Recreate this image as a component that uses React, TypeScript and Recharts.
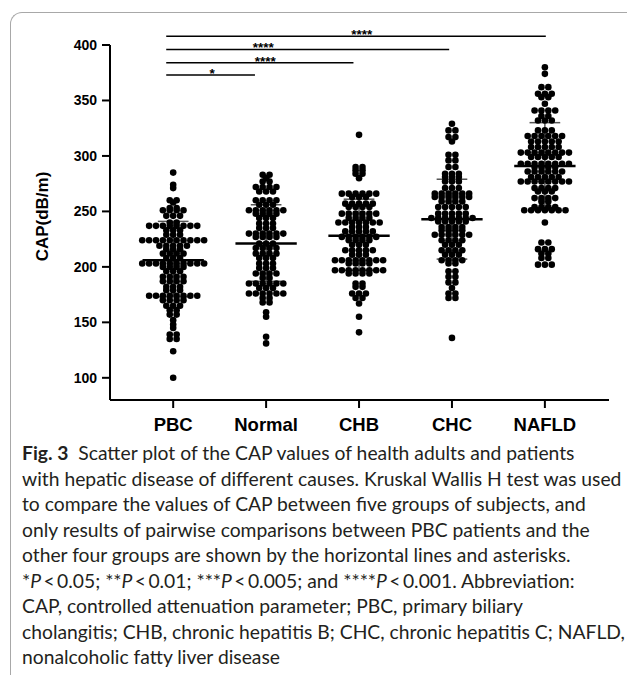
import React from 'react';
import { ScatterChart, Scatter, XAxis, YAxis, ReferenceLine, ReferenceDot, Label } from 'recharts';

const groups = ['PBC', 'Normal', 'CHB', 'CHC', 'NAFLD'];
const yTicks = [100, 150, 200, 250, 300, 350, 400];

// CAP values, one entry per dot
const pbc = [
  285, 274, 271, 260, 260, 258, 253, 253, 251, 251, 251, 251, 246, 246, 246, 240, 240,
  237, 237, 237, 237, 237, 237, 237, 237, 233, 233, 233, 229, 229, 229,
  224, 224, 224, 224, 224, 224, 224, 224, 224, 224, 219, 219, 219, 219, 219, 216, 216, 216,
  212, 212, 212, 212, 208, 208, 208, 203, 203, 203, 203, 203, 203, 203, 203, 203, 203,
  200, 200, 200, 200, 196, 196, 196, 191, 191, 191, 191, 187, 187, 187, 187, 182, 182, 182,
  179, 179, 179, 174, 174, 174, 174, 174, 174, 174, 174, 170, 170, 170, 170, 165, 165, 165,
  161, 161, 157, 157, 152, 148, 145, 139, 139, 135, 135, 124, 100,
];
const normal = [
  283, 283, 280, 277, 277, 272, 272, 272, 272, 268, 268, 268, 260, 260, 260, 260, 256, 256, 256,
  251, 251, 251, 251, 251, 251, 248, 248, 248, 248, 244, 244, 244, 239, 239, 239, 235, 235, 235,
  230, 230, 230, 230, 230, 230, 227, 227, 227, 227, 221, 221, 221, 217, 217, 217, 217,
  212, 212, 212, 212, 208, 208, 208, 203, 203, 203, 199, 199, 199, 194, 194, 194, 194, 190, 190,
  185, 185, 185, 185, 185, 185, 181, 181, 181, 176, 176, 176, 176, 176, 176, 172, 172, 168, 168,
  159, 155, 137, 131,
];
const chb = [
  319, 290, 290, 287, 287, 284, 284, 280, 266, 266, 266, 266, 266, 266, 263, 263, 263,
  257, 257, 257, 257, 257, 254, 254, 254, 254, 248, 248, 248, 248, 248, 248, 244, 244, 244, 244,
  240, 240, 240, 240, 240, 240, 240, 236, 236, 236, 232, 232, 232, 232, 232,
  227, 227, 227, 227, 227, 227, 224, 224, 224, 224, 220, 220, 220, 215, 215, 215, 215, 215,
  211, 211, 211, 206, 206, 206, 206, 206, 206, 206, 206, 203, 203, 203, 203,
  197, 197, 197, 197, 197, 197, 197, 197, 194, 194, 194, 194, 185, 185, 182, 182,
  176, 176, 176, 172, 172, 167, 155, 141,
];
const chc = [
  329, 323, 323, 317, 317, 313, 301, 301, 296, 296, 290, 290, 284, 284, 284, 281, 281, 281,
  277, 277, 277, 271, 271, 271, 266, 266, 266, 266, 266, 266, 263, 263, 263, 263, 263, 263,
  259, 259, 259, 259, 254, 254, 254, 254, 254, 248, 248, 248, 248, 248,
  244, 244, 244, 244, 244, 244, 244, 241, 241, 241, 241, 241, 236, 236, 236, 236, 233, 233, 233, 233,
  229, 229, 229, 229, 229, 229, 224, 224, 224, 224, 220, 220, 220, 215, 215, 215, 215,
  211, 211, 211, 206, 206, 206, 206, 203, 203, 196, 196, 191, 191, 186, 186, 181,
  176, 176, 172, 172, 136,
];
const nafld = [
  380, 374, 362, 362, 356, 356, 356, 353, 353, 347, 341, 341, 341, 341, 336, 336, 332, 332, 332,
  323, 323, 323, 318, 318, 318, 318, 318, 318, 313, 313, 313, 313, 313, 308, 308, 308, 308, 308,
  303, 303, 303, 303, 303, 303, 303, 303, 299, 299, 299, 299, 299,
  293, 293, 293, 293, 293, 293, 293, 293, 290, 290, 290, 290, 286, 286, 286, 286, 286, 286,
  281, 281, 281, 281, 281, 277, 277, 277, 277, 277, 277, 277, 277, 271, 271, 271, 271, 268, 268, 268,
  262, 262, 262, 262, 259, 259, 254, 254, 254, 254, 251, 251, 251, 251, 251, 251, 251,
  240, 222, 222, 216, 216, 216, 212, 212, 208, 208, 202, 202, 202,
];
const groupValues = [pbc, normal, chb, chc, nafld];

// median and interquartile bars
const medians = [206, 221, 228, 243, 291];
const upperQ = [241, 256, 261, 279, 330];
const lowerQ = [173, 187, 197, 207, 251];

// significance brackets: PBC vs each group
const sigEnds = [1.88, 2.94, 3.97, 5.01];
const sigLevels = [373, 384, 396, 408];
const sigStars = ['*', '****', '****', '****'];
const sigLabelX = [1.42, 1.99, 1.97, 3.03];

const STEP = 0.074;

// simple swarm layout: equal values share a row centred on the group
function swarm(vals: number[], gi: number) {
  const counts = new Map<number, number>();
  vals.forEach((v) => counts.set(v, (counts.get(v) || 0) + 1));
  const seen = new Map<number, number>();
  return vals.map((v) => {
    const n = counts.get(v) || 1;
    const k = seen.get(v) || 0;
    seen.set(v, k + 1);
    return { x: gi + 1 + (k - (n - 1) / 2) * STEP, y: v };
  });
}

const points = groupValues.flatMap((vals, gi) => swarm(vals, gi));

const Dot = (p: any) => <circle cx={p.cx} cy={p.cy} r={3.3} fill="#000" />;

const Stars = (text: string) => (p: any) => {
  const vb = p.viewBox || {};
  return (
    <text x={vb.x} y={vb.y + 3} textAnchor="middle" fontSize={13.5} fontWeight="bold" fill="#000">
      {text}
    </text>
  );
};

const YTitle = (p: any) => {
  const vb = p.viewBox;
  const cy = vb.y + vb.height / 2 - 6;
  return (
    <text
      x={42}
      y={cy}
      transform={`rotate(-90, 42, ${cy})`}
      textAnchor="middle"
      dominantBaseline="central"
      fontSize={17}
      fontWeight="bold"
      fill="#000"
    >
      CAP(dB/m)
    </text>
  );
};

const captionLines = [
  'with hepatic disease of different causes. Kruskal Wallis H test was used',
  'to compare the values of CAP between five groups of subjects, and',
  'only results of pairwise comparisons between PBC patients and the',
  'other four groups are shown by the horizontal lines and asterisks.',
];

export default function App() {
  const font = '"Liberation Sans", Arial, sans-serif';
  const lineStyle: React.CSSProperties = { height: 25.5, lineHeight: '25.5px', whiteSpace: 'nowrap' };
  return (
    <div
      style={{
        position: 'absolute',
        left: 0,
        top: 0,
        width: 627,
        height: 683,
        overflow: 'hidden',
        background: '#fff',
      }}
    >
      <div
        style={{
          position: 'absolute',
          left: 10,
          top: 12,
          width: 660,
          height: 662,
          borderTop: '1.5px solid #a8a8a8',
          borderLeft: '1.5px solid #a8a8a8',
          borderTopLeftRadius: 12,
        }}
      />
      <div style={{ position: 'absolute', left: 0, top: 0 }}>
        <ScatterChart
          width={627}
          height={440}
          margin={{ top: 45, right: 18, bottom: 0, left: 0 }}
          style={{ fontFamily: font }}
        >
          <XAxis
            type="number"
            dataKey="x"
            domain={[0.32, 5.69]}
            ticks={[1, 2, 3, 4, 5]}
            tickFormatter={(v: number) => groups[Math.round(v) - 1]}
            height={40}
            stroke="#000"
            strokeWidth={2}
            tickSize={8}
            tickMargin={10}
            tick={{ fill: '#000', fontSize: 18.5, fontWeight: 'bold' }}
            allowDataOverflow
          />
          <YAxis
            type="number"
            dataKey="y"
            domain={[80, 400]}
            ticks={yTicks}
            width={110}
            stroke="#000"
            strokeWidth={2}
            tickSize={8}
            tickMargin={5}
            tick={{ fill: '#000', fontSize: 14, fontWeight: 'bold' }}
            allowDataOverflow
          >
            <Label content={YTitle} />
          </YAxis>
          {medians.map((m, i) => (
            <ReferenceLine
              key={`v${i}`}
              segment={[{ x: i + 1, y: lowerQ[i] }, { x: i + 1, y: upperQ[i] }]}
              stroke="#555"
              strokeWidth={1.5}
            />
          ))}
          <Scatter data={points} shape={Dot} isAnimationActive={false} />
          {medians.map((m, i) => (
            <ReferenceLine
              key={`m${i}`}
              segment={[{ x: i + 1 - 0.33, y: m }, { x: i + 1 + 0.33, y: m }]}
              stroke="#000"
              strokeWidth={2.5}
            />
          ))}
          {upperQ.map((q, i) => (
            <ReferenceLine
              key={`u${i}`}
              segment={[{ x: i + 1 - 0.165, y: q }, { x: i + 1 + 0.165, y: q }]}
              stroke="#555"
              strokeWidth={1.5}
            />
          ))}
          {lowerQ.map((q, i) => (
            <ReferenceLine
              key={`l${i}`}
              segment={[{ x: i + 1 - 0.165, y: q }, { x: i + 1 + 0.165, y: q }]}
              stroke="#555"
              strokeWidth={1.5}
            />
          ))}
          {sigEnds.map((e, i) => (
            <ReferenceLine
              key={`s${i}`}
              segment={[{ x: 0.925, y: sigLevels[i] }, { x: e, y: sigLevels[i] }]}
              stroke="#000"
              strokeWidth={1.5}
              ifOverflow="visible"
            />
          ))}
          {sigStars.map((s, i) => (
            <ReferenceDot
              key={`t${i}`}
              x={sigLabelX[i]}
              y={sigLevels[i]}
              r={0}
              fill="none"
              stroke="none"
              ifOverflow="visible"
              label={Stars(s)}
            />
          ))}
        </ScatterChart>
      </div>
      <div
        style={{
          position: 'absolute',
          left: 22,
          top: 440,
          fontFamily: 'Lato, sans-serif',
          fontSize: 19.3,
          color: '#231f20',
        }}
      >
        <div style={lineStyle}>
          <b>Fig. 3</b>&nbsp; Scatter plot of the CAP values of health adults and patients
        </div>
        {captionLines.map((t) => (
          <div key={t} style={lineStyle}>
            {t}
          </div>
        ))}
        <div style={lineStyle}>
          *<i>P</i>{'\u2009<\u2009'}0.05; **<i>P</i>{'\u2009<\u2009'}0.01; ***<i>P</i>{'\u2009<\u2009'}0.005; and ****<i>P</i>
          {'\u2009<\u2009'}0.001. Abbreviation:
        </div>
        <div style={lineStyle}>CAP, controlled attenuation parameter; PBC, primary biliary</div>
        <div style={lineStyle}>cholangitis; CHB, chronic hepatitis B; CHC, chronic hepatitis C; NAFLD,</div>
        <div style={lineStyle}>nonalcoholic fatty liver disease</div>
      </div>
    </div>
  );
}
